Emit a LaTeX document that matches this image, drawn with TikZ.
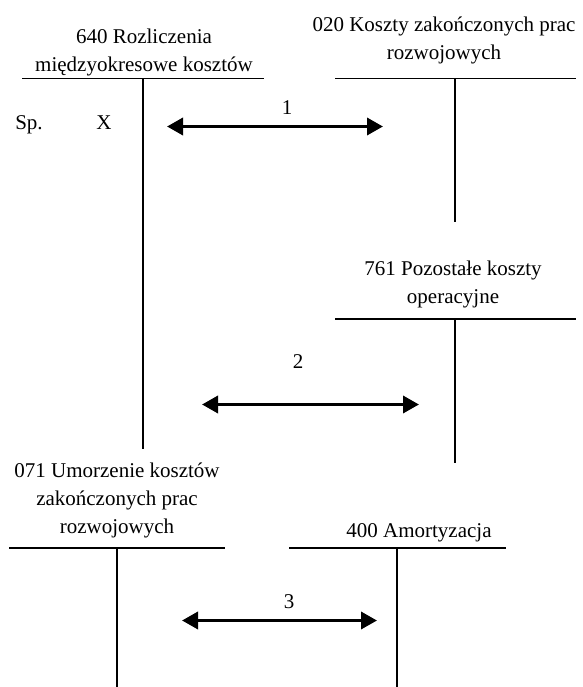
\documentclass[tikz,border=0pt]{standalone}
\usepackage{fontspec}
\setmainfont{Liberation Serif}
\usetikzlibrary{arrows.meta}
\begin{document}
\begin{tikzpicture}[x=1pt,y=-1pt,
  title/.style={font=\fontsize{21}{28}\selectfont, align=center, anchor=base, inner sep=0pt},
  lbl/.style={font=\fontsize{21}{28}\selectfont, anchor=base, inner sep=0pt},
  tline/.style={line width=1.5pt},
  flow/.style={line width=3.5pt, {Triangle[length=16pt,width=17pt]}-{Triangle[length=16pt,width=17pt]}}]
\useasboundingbox (0,0) rectangle (582,687);
% account 640
\node[title] (t640) at (144,72) {640 Rozliczenia\\międzyokresowe kosztów};
\coordinate (l640) at (22,78.5); \coordinate (r640) at (264,78.5);
\coordinate (top640) at (143,78.5); \coordinate (bot640) at (143,449);
\draw[tline] (l640) -- (r640); \draw[tline] (top640) -- (bot640);
\node[lbl] (sp) at (29,130) {Sp.};
\node[lbl] (x) at (104,130) {X};
% account 020
\node[title] (t020) at (444,60) {020 Koszty zakończonych prac\\rozwojowych};
\coordinate (l020) at (335,78.5); \coordinate (r020) at (576,78.5);
\coordinate (top020) at (455,78.5); \coordinate (bot020) at (455,222);
\draw[tline] (l020) -- (r020); \draw[tline] (top020) -- (bot020);
% account 761
\node[title] (t761) at (453,303) {761 Pozostałe koszty\\operacyjne};
\coordinate (l761) at (335,319); \coordinate (r761) at (576,319);
\coordinate (top761) at (455,319); \coordinate (bot761) at (455,463);
\draw[tline] (l761) -- (r761); \draw[tline] (top761) -- (bot761);
% account 071
\node[title] (t071) at (117,533) {071 Umorzenie kosztów\\zakończonych prac\\rozwojowych};
\coordinate (l071) at (9,548); \coordinate (r071) at (225,548);
\coordinate (top071) at (117,548); \coordinate (bot071) at (117,687);
\draw[tline] (l071) -- (r071); \draw[tline] (top071) -- (bot071);
% account 400
\node[title] (t400) at (419,537) {400 Amortyzacja};
\coordinate (l400) at (289,548); \coordinate (r400) at (506,548);
\coordinate (top400) at (397,548); \coordinate (bot400) at (397,687);
\draw[tline] (l400) -- (r400); \draw[tline] (top400) -- (bot400);
% arrows
\coordinate (a1s) at (167,126.5); \coordinate (a1e) at (383,126.5);
\draw[flow] (a1s) -- (a1e);
\node[lbl] (n1) at (287,115) {1};
\coordinate (a2s) at (202,404.5); \coordinate (a2e) at (419,404.5);
\draw[flow] (a2s) -- (a2e);
\node[lbl] (n2) at (298,368) {2};
\coordinate (a3s) at (182,620.5); \coordinate (a3e) at (377,620.5);
\draw[flow] (a3s) -- (a3e);
\node[lbl] (n3) at (289,608) {3};
\end{tikzpicture}
\end{document}
